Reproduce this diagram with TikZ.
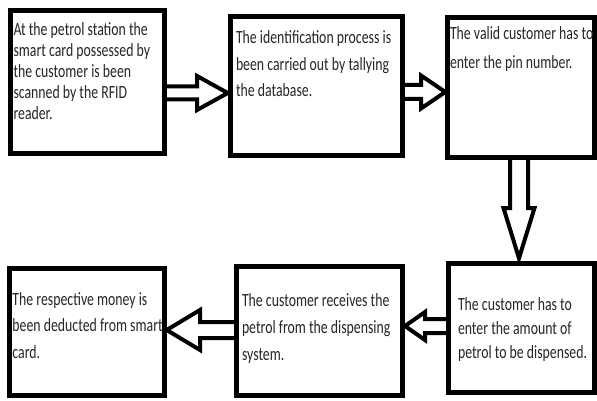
\documentclass[tikz,border=0pt]{standalone}
\usepackage{fontspec}
\setmainfont{Carlito}
\usetikzlibrary{backgrounds,calc}
\tikzset{
  stepbox/.style={draw=black, line width=5pt, inner sep=0pt, outer sep=0pt, anchor=north west},
  blockarrow/.style={draw=black, fill=white, line width=4pt, line join=miter},
  boxtext/.style={anchor=base west, inner sep=0pt, outer sep=0pt, text=black!85},
}
\newcommand{\txtlines}[2]{\scalebox{1}[1.35]{\fontsize{13.8}{#1}\selectfont\begin{tabular}[t]{@{}l@{}}#2\end{tabular}}}
\begin{document}
\begin{tikzpicture}[x=1pt,y=-1pt]
\useasboundingbox (0,0) rectangle (597,401);
% boxes
\node[stepbox, minimum width=153.4pt, minimum height=143pt] (b1) at (10.8,10.3) {};
\node[stepbox, minimum width=172.2pt, minimum height=139.2pt] (b2) at (230.3,16.3) {};
\node[stepbox, minimum width=146.7pt, minimum height=140.2pt] (b3) at (447.8,17.3) {};
\node[stepbox, minimum width=145.7pt, minimum height=129.2pt] (b4) at (448.8,263.3) {};
\node[stepbox, minimum width=165.8pt, minimum height=129pt] (b5) at (236.7,266) {};
\node[stepbox, minimum width=154.5pt, minimum height=127.2pt] (b6) at (9.7,268.3) {};
% texts
\node[boxtext] (t1) at (13.5,35.7) {\txtlines{15.6pt}{At the petrol station the\\ smart card possessed by\\ the customer is been\\ scanned by the RFID\\ reader.}};
\node[boxtext] (t2) at (236,43.3) {\txtlines{19.8pt}{The identification process is\\ been carried out by tallying\\ the database.}};
\node[boxtext] (t3) at (450,39.3) {\txtlines{21.5pt}{The valid customer has to\\ enter the pin number.}};
\node[boxtext] (t4) at (458,310.7) {\txtlines{17.8pt}{The customer has to\\ enter the amount of\\ petrol to be dispensed.}};
\node[boxtext] (t5) at (242,306.7) {\txtlines{19.8pt}{The customer receives the\\ petrol from the dispensing\\ system.}};
\node[boxtext] (t6) at (12.5,305) {\txtlines{19.8pt}{The respective money is\\ been deducted from smart\\ card.}};
% arrow end points
\coordinate (a1s) at (b1.east |- 0,93);
\coordinate (a1e) at (b2.west |- 0,93);
\coordinate (a2s) at (b2.east |- 0,92);
\coordinate (a2e) at (b3.west |- 0,92);
\coordinate (a3s) at (b3.south -| 519,0);
\coordinate (a3e) at (b4.north -| 519,0);
\coordinate (a4s) at (b4.west |- 0,326);
\coordinate (a4e) at (b5.east |- 0,326);
\coordinate (a5s) at (b5.west |- 0,330);
\coordinate (a5e) at (b6.east |- 0,330);
\begin{pgfonlayer}{background}
\draw[blockarrow] ($(a1s)+(0,-6.5)$) -- (197,86.5) -- (197,76) -- ($(a1e)+(-2.5,0)$) -- (197,110) -- (197,99.5) -- ($(a1s)+(0,6.5)$);
\draw[blockarrow] ($(a2s)+(0,-7)$) -- (421,85) -- (421,75.5) -- ($(a2e)+(-2.5,0)$) -- (421,108.5) -- (421,99) -- ($(a2s)+(0,7)$);
\draw[blockarrow] ($(a3s)+(-9,0)$) -- (510,208) -- (503.5,208) -- ($(a3e)+(0,-5)$) -- (534.5,208) -- (528,208) -- ($(a3s)+(9,0)$);
\draw[blockarrow] ($(a4s)+(0,-7)$) -- (425,319) -- (425,312) -- ($(a4e)+(2.5,0)$) -- (425,340) -- (425,333) -- ($(a4s)+(0,7)$);
\draw[blockarrow] ($(a5s)+(0,-8)$) -- (200,322) -- (200,310) -- ($(a5e)+(2.5,0)$) -- (200,350) -- (200,338) -- ($(a5s)+(0,8)$);
\end{pgfonlayer}
\end{tikzpicture}
\end{document}
